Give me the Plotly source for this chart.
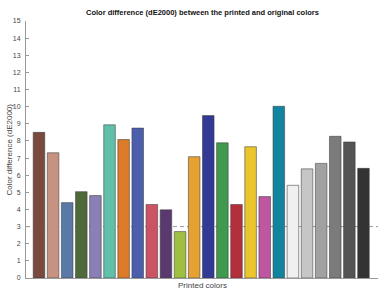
import plotly.graph_objects as go

categories = list(range(24))
values = [8.50, 7.31, 4.40, 5.04, 4.81, 8.94, 8.08, 8.75, 4.29, 3.98, 2.71, 7.08,
          9.48, 7.89, 4.29, 7.66, 4.75, 10.02, 5.41, 6.37, 6.69, 8.27, 7.94, 6.40]
colors = ["#794a3d", "#c69383", "#5a79a7", "#4e6a3a", "#8a7fb7", "#60c0aa",
          "#dc7b29", "#4b5fad", "#cb5363", "#5a396e", "#9fbf42", "#e6a133",
          "#333a95", "#3f994e", "#b3303a", "#eac52b", "#bf56a0", "#12849f",
          "#f0f0f0", "#c6c6c6", "#a1a1a1", "#7b7b7b", "#545454", "#333333"]
y_ticks = list(range(0, 16))
threshold = 3

fig = go.Figure()
fig.add_trace(go.Bar(
    x=categories, y=values,
    marker=dict(color=colors, line=dict(color="rgba(60,60,60,0.55)", width=1)),
    width=0.82,
))
fig.add_shape(type="line", xref="paper", yref="y", x0=0, x1=1, y0=threshold, y1=threshold,
              line=dict(color="#999999", width=1, dash="4px,3px"), layer="below")

fig.update_layout(
    width=390, height=293,
    margin=dict(l=26, r=12, t=21, b=12),
    plot_bgcolor="white", paper_bgcolor="white",
    showlegend=False,
    font=dict(family="Liberation Sans, Arial, sans-serif", color="#333333"),
    annotations=[
        dict(text="<b>Color difference (dE2000) between the printed and original colors</b>",
             xref="paper", yref="paper", x=0.5, y=1, yshift=9, showarrow=False,
             font=dict(size=7.5, color="#111111"), xanchor="center", yanchor="middle"),
        dict(text="Printed colors", xref="paper", yref="paper", x=0.5, y=0, yshift=-7,
             showarrow=False, font=dict(size=8, color="#444444"), xanchor="center", yanchor="middle"),
        dict(text="Color difference (dE2000)", xref="paper", yref="paper", x=0, xshift=-17,
             y=0.5, showarrow=False, textangle=-90, font=dict(size=8, color="#444444"),
             xanchor="center", yanchor="middle"),
    ],
)
fig.update_xaxes(range=[-0.92, 24.03], showticklabels=False, ticks="", showgrid=False,
                 zeroline=False, showline=True, linecolor="#999999", linewidth=1)
fig.update_yaxes(range=[0, 15], tickvals=y_ticks, ticks="inside", ticklen=3, tickcolor="#999999",
                 showgrid=False, zeroline=False, showline=True, linecolor="#999999", linewidth=1,
                 tickfont=dict(size=7, color="#444444"), ticklabelstandoff=3)

fig.write_html("out.html")
